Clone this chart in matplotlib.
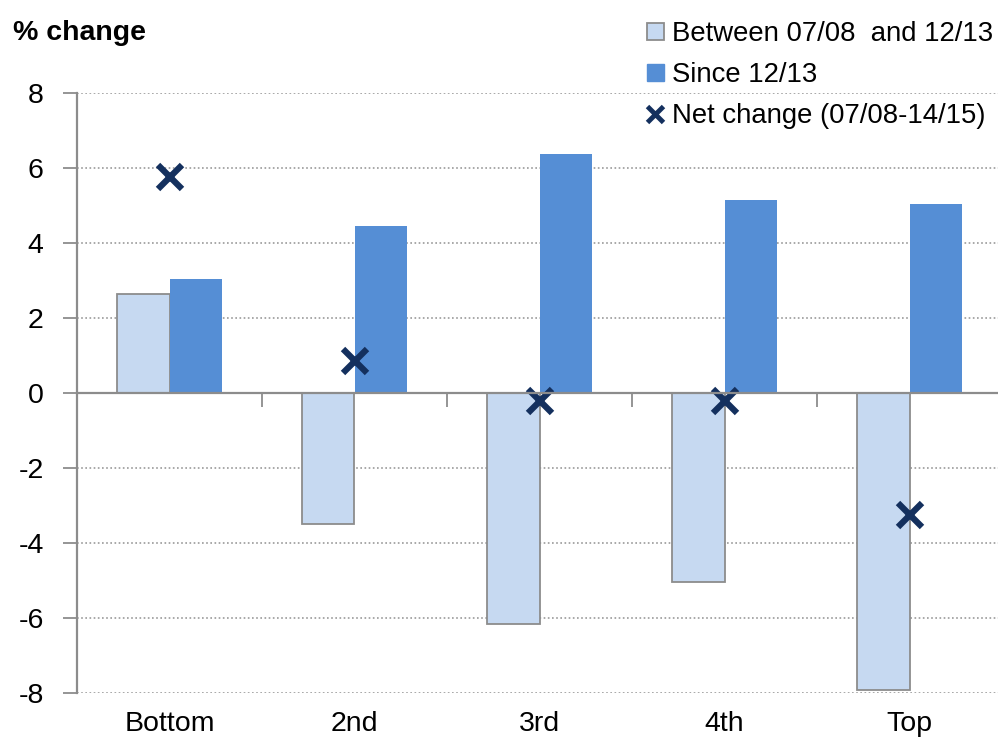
import numpy as np
import matplotlib.pyplot as plt
from matplotlib.patches import Patch
from matplotlib.lines import Line2D

plt.rcParams['font.family'] = ['Liberation Sans', 'DejaVu Sans']
plt.rcParams['axes.unicode_minus'] = False

categories = ['Bottom', '2nd', '3rd', '4th', 'Top']
between_0708_1213 = [2.65, -3.48, -6.15, -5.03, -7.92]
since_1213 = [3.05, 4.45, 6.37, 5.15, 5.03]
net_change = [5.75, 0.85, -0.2, -0.2, -3.25]

light = '#C6D9F1'
dark = '#558ED5'
navy = '#14305E'
grey = '#8C8C8C'

fig = plt.figure(figsize=(9.98, 7.43), dpi=100)
ax = fig.add_axes([77 / 998, 50 / 743, 925 / 998, 600 / 743])

x = np.arange(len(categories))
w = 0.285
ax.bar(x - w / 2, between_0708_1213, w, color=light, edgecolor=grey, linewidth=1.3, zorder=3)
ax.bar(x + w / 2, since_1213, w, color=dark, linewidth=0, zorder=3)
ax.plot(x, net_change, linestyle='none', marker='x', markersize=17, mew=4.5,
        color=navy, zorder=4)

ax.set_xlim(-0.5, len(categories) - 0.5)
ax.set_ylim(-8, 8)
ax.set_yticks(np.arange(-8, 9, 2))
ax.tick_params(axis='y', labelsize=20.5, length=10, width=1.3, color=grey, pad=14)

# dotted gridlines, skipping zero where the axis line sits
for v in np.arange(-8, 9, 2):
    if v != 0:
        ax.axhline(v, color='#9A9A9A', linestyle=(0, (1, 1.5)), linewidth=1.2, zorder=1)

for s in ['top', 'right']:
    ax.spines[s].set_visible(False)
ax.spines['left'].set_color(grey)
ax.spines['left'].set_linewidth(1.6)
ax.spines['bottom'].set_position(('data', 0))
ax.spines['bottom'].set_color(grey)
ax.spines['bottom'].set_linewidth(1.6)
ax.spines['bottom'].set_zorder(5)

# category boundary ticks on the zero line
ax.set_xticks(np.arange(0.5, len(categories) - 0.5, 1))
ax.set_xticklabels([])
ax.tick_params(axis='x', length=10, width=1.3, color=grey, direction='out')

sec = ax.secondary_xaxis('bottom')
sec.set_xticks(x, categories)
sec.tick_params(length=0, labelsize=20.5, pad=13)
sec.spines['bottom'].set_visible(False)

fig.text(13 / 998, 1 - 33 / 743, '% change', fontsize=20.5, fontweight='bold', va='center')

handles = [
    Patch(facecolor=light, edgecolor=grey, linewidth=1.3, label='Between 07/08  and 12/13'),
    Patch(facecolor=dark, edgecolor=dark, label='Since 12/13'),
    Line2D([], [], linestyle='none', marker='x', markersize=11, mew=3.5, color=navy,
           label='Net change (07/08-14/15)'),
]
fig.legend(handles=handles, loc='upper left', bbox_to_anchor=(636 / 998, 1 - 10 / 743),
           frameon=False, fontsize=19.8, handlelength=0.6, handleheight=0.6,
           handletextpad=0.3, labelspacing=0.55, borderaxespad=0)

fig.savefig('out.png', dpi=100)
